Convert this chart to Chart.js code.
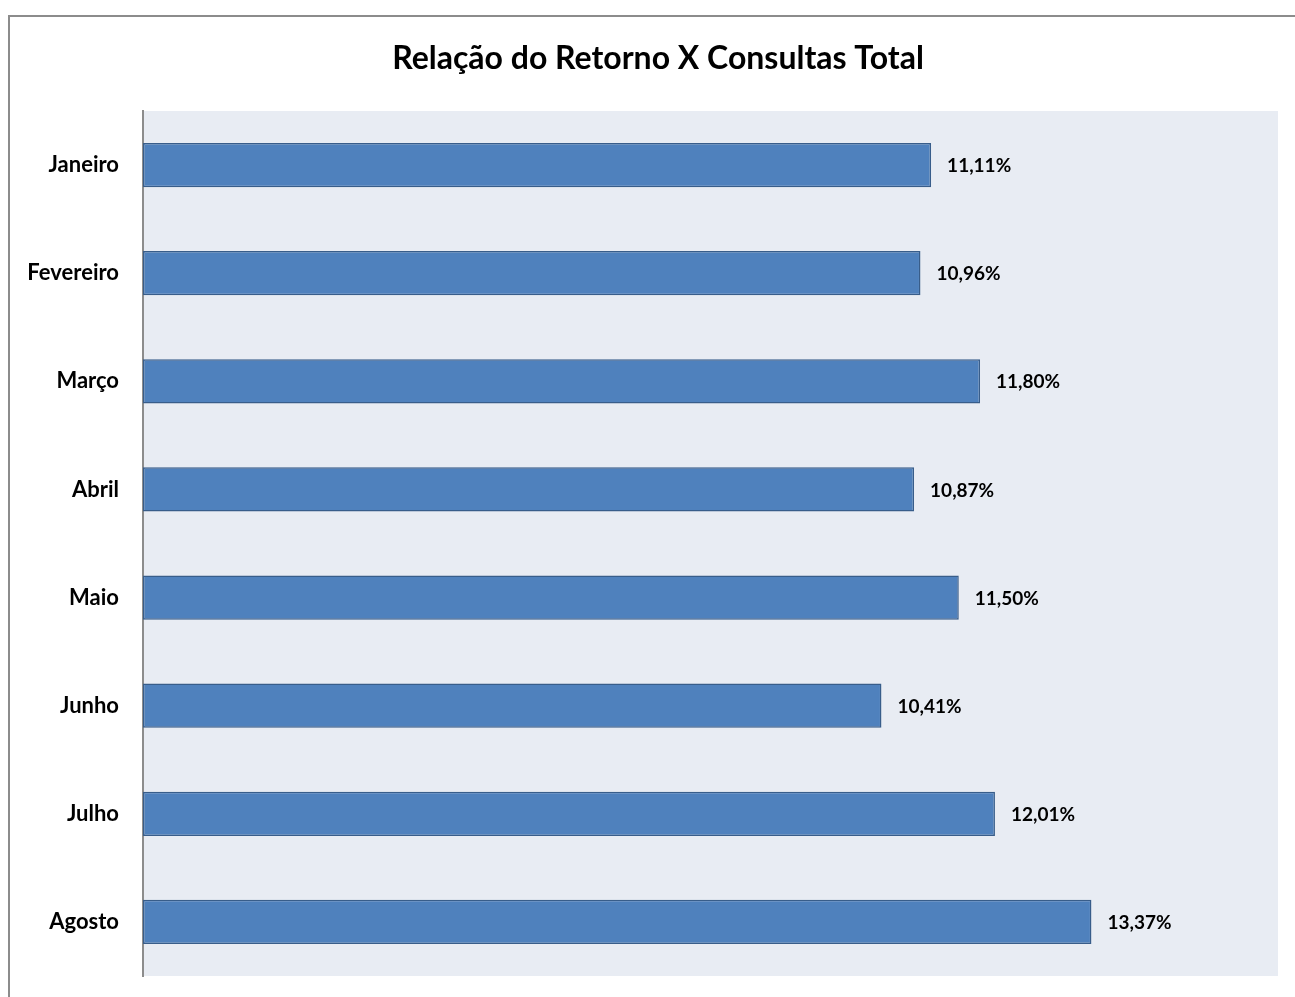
<!DOCTYPE html>
<html lang="pt">
<head>
    <meta charset="UTF-8">
    <title>Relação do Retorno X Consultas Total</title>
    <script src="https://cdn.jsdelivr.net/npm/chart.js"></script>
    <style>
        body { margin: 0; overflow: hidden; background: #fff; }
        #box {
            position: absolute; left: 8px; top: 15px;
            width: 1296px; height: 1000px;
            border: 2px solid #8c8c8c;
        }
    </style>
</head>
<body>
    <div id="box"><canvas id="retornoChart" width="1296" height="1000"></canvas></div>

    <script>
        const titulo = 'Relação do Retorno X Consultas Total';
        const meses = ['Janeiro', 'Fevereiro', 'Março', 'Abril', 'Maio', 'Junho', 'Julho', 'Agosto'];
        const retorno = [11.11, 10.96, 11.80, 10.87, 11.50, 10.41, 12.01, 13.37];
        const eixoMin = 0;
        const eixoMax = 16;

        const fmt = v => v.toFixed(2).replace('.', ',') + '%';

        // fundo cinza-azulado da área do gráfico
        const plotBg = {
            id: 'plotBg',
            beforeDraw(chart) {
                const a = chart.chartArea, ctx = chart.ctx;
                ctx.save();
                ctx.fillStyle = '#E8ECF3';
                ctx.fillRect(a.left, a.top, a.right - a.left, a.bottom - a.top);
                ctx.restore();
            }
        };

        // título centrado na caixa inteira (não só na largura do canvas menos o padding)
        const tituloPlugin = {
            id: 'tituloPlugin',
            afterDraw(chart) {
                const ctx = chart.ctx;
                ctx.save();
                ctx.font = 'bold 32px Lato';
                ctx.fillStyle = '#000';
                ctx.textAlign = 'center';
                ctx.textBaseline = 'middle';
                ctx.fillText(titulo, chart.width / 2, 42);
                ctx.restore();
            }
        };

        const rotulos = {
            id: 'rotulos',
            afterDatasetsDraw(chart) {
                const ctx = chart.ctx;
                const meta = chart.getDatasetMeta(0);
                ctx.save();
                ctx.font = 'bold 19px Lato';
                ctx.fillStyle = '#000';
                ctx.textAlign = 'left';
                ctx.textBaseline = 'middle';
                meta.data.forEach((bar, i) => {
                    ctx.fillText(fmt(retorno[i]), bar.x + 16, bar.y + 1);
                });
                ctx.restore();
            }
        };

        const ctx = document.getElementById('retornoChart').getContext('2d');
        new Chart(ctx, {
            type: 'bar',
            data: {
                labels: meses,
                datasets: [{
                    data: retorno,
                    backgroundColor: '#4F81BD',
                    borderColor: '#385D8A',
                    borderWidth: 1.5,
                    borderSkipped: false,
                    barPercentage: 0.41,
                    categoryPercentage: 1
                }]
            },
            options: {
                indexAxis: 'y',
                responsive: false,
                animation: false,
                layout: { padding: { top: 94, left: 0, right: 28, bottom: 41 } },
                plugins: {
                    legend: { display: false },
                    tooltip: { enabled: false },
                    title: { display: false }
                },
                scales: {
                    x: { display: false, min: eixoMin, max: eixoMax },
                    y: {
                        grid: { display: false },
                        border: { color: '#8c8c8c', width: 2 },
                        ticks: {
                            color: '#000',
                            padding: 16,
                            font: { family: 'Lato', size: 22, weight: 'bold' }
                        },
                        afterFit(scale) { scale.width = 133; }
                    }
                }
            },
            plugins: [plotBg, rotulos, tituloPlugin]
        });
    </script>
</body>
</html>
